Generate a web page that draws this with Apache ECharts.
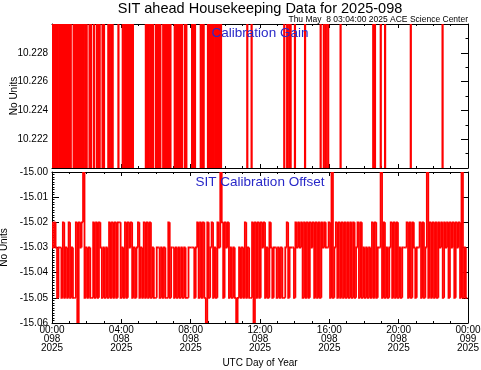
<!DOCTYPE html>
<html><head><meta charset="utf-8">
<script src="https://cdn.jsdelivr.net/npm/echarts@6/dist/echarts.min.js"></script>
<style>html,body{margin:0;padding:0;background:#fff}#c{width:481px;height:370px}</style>
</head><body><div id="c"></div>
<script>
// ---- tick labels ----
const timeTickLabels = ['00:00','04:00','08:00','12:00','16:00','20:00','00:00'];
const dayTickLabels  = ['098','098','098','098','098','098','099'];
const yearTickLabel  = '2025';

// ---- Calibration Gain: value flips between two off-scale levels at these minutes of day ----
const gainLevels = [10.215, 10.235];
const gainToggleMinutes = [
  0,5,10,15,20,25,30,35,40,45,50,55,60,65,
  75,80,85,90,95,100,105,110,115,120,
  130,135,145,155,160,165,175,180,
  195,200,205,210,230,
  245,250,255,260,265,270,275,280,
  325,330,335,340,345,350,360,365,370,375,
  385,390,395,400,405,410,
  425,430,435,440,445,450,460,465,
  485,490,495,515,520,525,
  540,545,550,555,560,565,570,575,580,585,
  676,691,804,814,821,826,841,876,
  930,941,948,956,999,1112,1118,1138,1153,1242,1352
];

// ---- SIT Calibration Offset: 5-minute samples ----
const sampleMinutes = 5;
const offset00to08 = [
  -15.02,-15.03,-15.02,-15.03,-15.05,-15.03,-15.03,-15.05,-15.02,-15.05,-15.03,-15.05,
  -15.02,-15.05,-15.03,-15.05,-15.05,-15.02,-15.06,-15.02,-15.03,-15.02,-15.00,-15.05,
  -15.03,-15.05,-15.03,-15.05,-15.05,-15.02,-15.05,-15.02,-15.05,-15.02,-15.03,-15.05,
  -15.03,-15.05,-15.03,-15.05,-15.02,-15.05,-15.02,-15.05,-15.02,-15.05,-15.02,-15.02,
  -15.05,-15.03,-15.05,-15.02,-15.05,-15.02,-15.03,-15.02,-15.05,-15.03,-15.05,-15.03,
  -15.02,-15.05,-15.03,-15.05,-15.02,-15.05,-15.02,-15.05,-15.02,-15.05,-15.03,-15.05,
  -15.05,-15.03,-15.03,-15.05,-15.03,-15.05,-15.03,-15.05,-15.05,-15.02,-15.05,-15.03,
  -15.03,-15.05,-15.03,-15.05,-15.03,-15.05,-15.03,-15.05,-15.03,-15.05,-15.05,-15.03
];
const offset08to16 = [
  -15.03,-15.03,-15.03,-15.05,-15.03,-15.02,-15.05,-15.02,-15.05,-15.02,-15.05,-15.06,
  -15.02,-15.05,-15.03,-15.02,-15.05,-15.03,-15.05,-15.02,-15.03,-15.00,-15.02,-15.05,
  -15.02,-15.03,-15.02,-15.05,-15.03,-15.05,-15.03,-15.05,-15.06,-15.05,-15.03,-15.05,
  -15.03,-15.05,-15.02,-15.05,-15.03,-15.05,-15.05,-15.02,-15.06,-15.02,-15.05,-15.02,
  -15.05,-15.02,-15.03,-15.02,-15.05,-15.03,-15.05,-15.02,-15.03,-15.05,-15.03,-15.03,
  -15.05,-15.03,-15.05,-15.03,-15.05,-15.05,-15.03,-15.02,-15.05,-15.03,-15.03,-15.03,
  -15.05,-15.02,-15.03,-15.02,-15.03,-15.02,-15.05,-15.02,-15.05,-15.02,-15.05,-15.02,
  -15.03,-15.02,-15.05,-15.02,-15.05,-15.02,-15.05,-15.02,-15.03,-15.02,-15.03,-15.03
];
const offset16to24 = [
  -15.02,-15.05,-15.00,-15.05,-15.03,-15.02,-15.05,-15.02,-15.05,-15.02,-15.05,-15.02,
  -15.05,-15.02,-15.05,-15.02,-15.05,-15.02,-15.05,-15.03,-15.02,-15.05,-15.02,-15.05,
  -15.03,-15.05,-15.03,-15.05,-15.03,-15.05,-15.02,-15.05,-15.02,-15.05,-15.03,-15.03,
  -15.00,-15.05,-15.02,-15.05,-15.03,-15.05,-15.03,-15.02,-15.05,-15.02,-15.05,-15.02,
  -15.05,-15.03,-15.05,-15.03,-15.03,-15.03,-15.02,-15.05,-15.02,-15.05,-15.02,-15.03,
  -15.05,-15.03,-15.03,-15.02,-15.05,-15.02,-15.05,-15.03,-15.00,-15.05,-15.02,-15.05,
  -15.02,-15.05,-15.02,-15.05,-15.02,-15.03,-15.02,-15.05,-15.02,-15.03,-15.02,-15.05,
  -15.02,-15.03,-15.02,-15.05,-15.02,-15.03,-15.02,-15.05,-15.00,-15.05,-15.03,-15.05
];

// ---- build series data ----
// gain: each toggle goes from the previous level to the next level
const gainItems = gainToggleMinutes.map((t, k) => [t, gainLevels[k % 2], gainLevels[(k + 1) % 2]]);
// offset: [time, previous value, value]
const offsetValues = offset00to08.concat(offset08to16, offset16to24);
const offsetItems = offsetValues.map((v, i) => [i * sampleMinutes, i > 0 ? offsetValues[i - 1] : v, v]);

const FONT = 'Liberation Sans';
const BLACK = '#000';
const RED = '#ff0000';

function xAx(gridIndex, position, showLabels, name) {
  return {
    type: 'value', gridIndex, position, min: 0, max: 1440, interval: 240,
    axisLine: { show: true, onZero: false, lineStyle: { color: BLACK, width: 1 } },
    axisTick: { show: true, inside: true, length: 4, lineStyle: { color: BLACK } },
    minorTick: { show: true, splitNumber: 4, length: 2, lineStyle: { color: BLACK } },
    splitLine: { show: false },
    axisLabel: {
      show: showLabels, color: BLACK, fontFamily: FONT, fontSize: 10, lineHeight: 9, margin: 3,
      formatter: v => { const k = Math.round(v / 240); return timeTickLabels[k] + '\n' + dayTickLabels[k] + '\n' + yearTickLabel; }
    },
    name: name || '', nameLocation: 'middle', nameGap: 35, nameMoveOverlap: false,
    nameTextStyle: { color: BLACK, fontFamily: FONT, fontSize: 10 }
  };
}
function yAx(gridIndex, position, min, max, interval, minorSplit, decimals, showLabels, majorLen, hideEnds, nameGap) {
  return {
    type: 'value', gridIndex, position, min, max, interval,
    axisLine: { show: true, onZero: false, lineStyle: { color: BLACK, width: 1 } },
    axisTick: { show: true, inside: true, length: majorLen, lineStyle: { color: BLACK } },
    minorTick: { show: minorSplit > 1, splitNumber: minorSplit, length: 2.5, lineStyle: { color: BLACK } },
    splitLine: { show: false },
    axisLabel: {
      show: showLabels, color: BLACK, fontFamily: FONT, fontSize: 10, margin: 4,
      showMinLabel: !hideEnds, showMaxLabel: !hideEnds,
      formatter: v => v.toFixed(decimals)
    },
    name: showLabels ? 'No Units' : '', nameLocation: 'middle', nameGap: nameGap || 30, nameRotate: 90,
    nameMoveOverlap: false,
    nameTextStyle: { color: BLACK, fontFamily: FONT, fontSize: 10 }
  };
}

function renderGain(params, api) {
  const p1 = api.coord([api.value(0), api.value(1)]);
  const p2 = api.coord([api.value(0), api.value(2)]);
  return { type: 'line', shape: { x1: p1[0], y1: p1[1], x2: p2[0], y2: p2[1] },
           style: { stroke: RED, lineWidth: 2.2 } };
}
function renderOffset(params, api) {
  const t = api.value(0);
  const half = sampleMinutes / 2;
  const a = api.coord([t - half, api.value(1)]);
  const b = api.coord([t - half, api.value(2)]);
  const c = api.coord([t + half, api.value(2)]);
  return { type: 'polyline', shape: { points: [a, b, c] },
           style: { stroke: RED, lineWidth: 1.8, fill: null } };
}

const chart = echarts.init(document.getElementById('c'), null, { renderer: 'canvas' });
chart.setOption({
  animation: false,
  backgroundColor: '#fff',
  title: [
    { text: 'SIT ahead Housekeeping Data for 2025-098', left: 260, textAlign: 'center', top: 1, padding: 0,
      textStyle: { color: BLACK, fontFamily: FONT, fontSize: 14.5, fontWeight: 'normal' } },
    { text: 'Thu May  8 03:04:00 2025 ACE Science Center', right: 13, top: 15, padding: 0,
      textStyle: { color: BLACK, fontFamily: FONT, fontSize: 8.5, fontWeight: 'normal' } },
    { text: 'Calibration Gain', left: 260, textAlign: 'center', top: 26, padding: 0,
      textStyle: { color: '#2828c8', fontFamily: FONT, fontSize: 13.5, fontWeight: 'normal' } },
    { text: 'SIT Calibration Offset', left: 260, textAlign: 'center', top: 175, padding: 0,
      textStyle: { color: '#2828c8', fontFamily: FONT, fontSize: 13.5, fontWeight: 'normal' } }
  ],
  grid: [
    { left: 52, right: 13, top: 24, height: 144, containLabel: false, outerBoundsMode: 'none' },
    { left: 52, right: 13, top: 172, height: 151, containLabel: false, outerBoundsMode: 'none' }
  ],
  xAxis: [
    xAx(0, 'bottom', false),
    xAx(0, 'top', false),
    xAx(1, 'bottom', true, 'UTC Day of Year'),
    xAx(1, 'top', false)
  ],
  yAxis: [
    yAx(0, 'left', 10.220, 10.230, 0.002, 4, 3, true, 5, true, 33),
    yAx(0, 'right', 10.220, 10.230, 0.002, 2, 3, false, 7, true),
    yAx(1, 'left', -15.06, -15.00, 0.01, 10, 2, true, 7, false, 43),
    yAx(1, 'right', -15.06, -15.00, 0.01, 1, 2, false, 6, false)
  ],
  series: [
    { type: 'custom', name: 'Calibration Gain', xAxisIndex: 0, yAxisIndex: 0, data: gainItems,
      encode: { x: 0, y: [1, 2] }, clip: true, renderItem: renderGain },
    { type: 'custom', name: 'SIT Calibration Offset', xAxisIndex: 2, yAxisIndex: 2, data: offsetItems,
      encode: { x: 0, y: [1, 2] }, clip: true, renderItem: renderOffset }
  ]
});
</script>
</body></html>
